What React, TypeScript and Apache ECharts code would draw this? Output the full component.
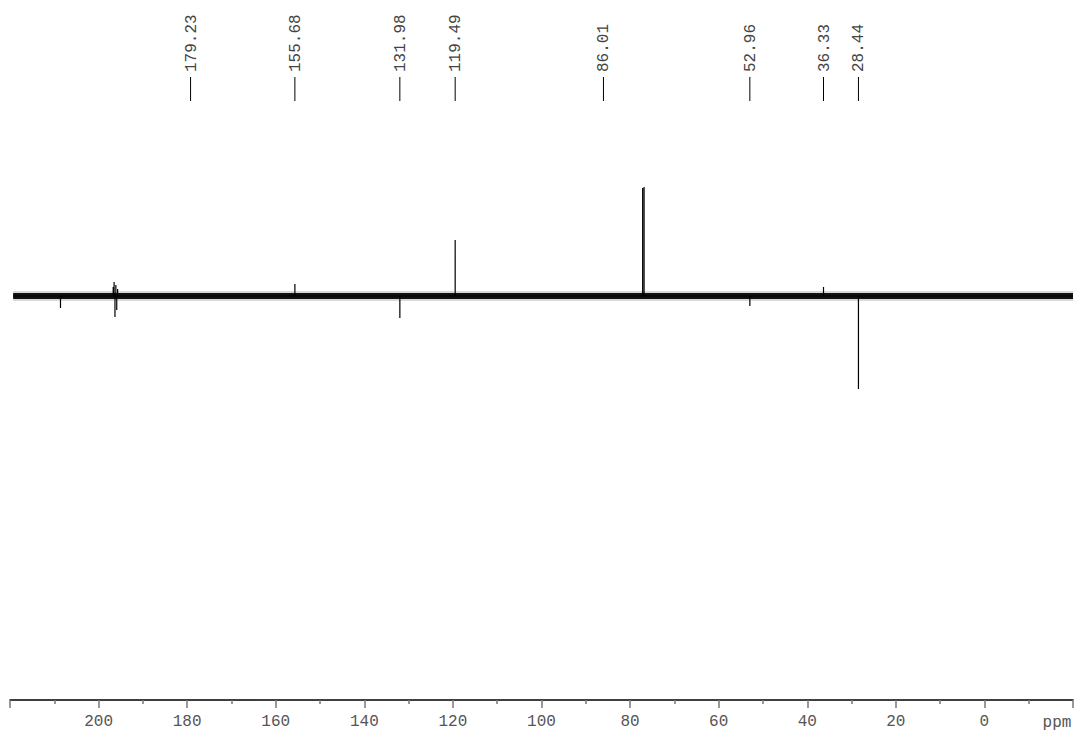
import React, { useEffect, useRef } from "react";
import * as echarts from "echarts";

// Peak-label positions (ppm) shown at the top
const labelPpm: number[] = [179.23, 155.68, 131.98, 119.49, 86.01, 52.96, 36.33, 28.44];

// Visible signals / spikes: [ppm, intensity] (arbitrary units, + up / - down)
const peakPpm: number[] = [
  208.6, 196.7, 196.5, 196.3, 196.1, 195.9, 195.7, 155.68, 131.98, 119.49,
  77.16, 76.84, 52.96, 36.33, 28.44,
];
const peakHeight: number[] = [
  -12, 9, 14, -21, 11, -14, 7, 12, -22, 56,
  108, 109, -10, 9, -93,
];

// Spectrum extent (ppm)
const spectrumStart = 219.3;
const spectrumEnd = -20;

// Axis ticks
const axisMin = -20;
const axisMax = 220;
const axisInterval = 20;

export default function App() {
  const ref = useRef<HTMLDivElement>(null);

  useEffect(() => {
    if (!ref.current) return;
    const chart = echarts.init(ref.current, null, { renderer: "svg" });

    const spectrum: number[][] = [[spectrumStart, 0]];
    peakPpm.forEach((p, i) => {
      spectrum.push([p, 0], [p, peakHeight[i]], [p, 0]);
    });
    spectrum.push([spectrumEnd, 0]);

    const baseline: number[][] = [
      [spectrumStart, 0],
      [spectrumEnd, 0],
    ];

    const mono = '"Liberation Mono", "DejaVu Sans Mono", monospace';

    chart.setOption({
      animation: false,
      backgroundColor: "#ffffff",
      grid: { left: 10, width: 1068, top: 100, bottom: 34 },
      xAxis: {
        type: "value",
        min: axisMin,
        max: axisMax,
        interval: axisInterval,
        inverse: true,
        axisLine: { show: true, onZero: false, lineStyle: { color: "#000", width: 1.5 } },
        axisTick: { show: true, length: 8, lineStyle: { color: "#777", width: 1.5 } },
        minorTick: { show: true, splitNumber: 2, length: 4, lineStyle: { color: "#777", width: 1.5 } },
        splitLine: { show: false },
        axisLabel: {
          color: "#555",
          fontFamily: mono,
          fontSize: 16,
          margin: 14,
          formatter: (v: number) => (v === axisMin || v === axisMax ? "" : String(v)),
        },
      },
      yAxis: {
        type: "value",
        min: -404,
        max: 196,
        show: false,
        splitLine: { show: false },
      },
      graphic: [
        {
          type: "text",
          x: 1057,
          y: 723,
          style: {
            text: "ppm",
            fill: "#555",
            font: `16px ${mono}`,
            align: "center",
            verticalAlign: "middle",
          },
        },
      ],
      series: [
        {
          type: "line",
          data: baseline,
          showSymbol: false,
          silent: true,
          lineStyle: { color: "#000", width: 10, opacity: 0.15 },
        },
        {
          type: "line",
          data: baseline,
          showSymbol: false,
          silent: true,
          lineStyle: { color: "#111", width: 6 },
        },
        {
          type: "line",
          data: spectrum,
          showSymbol: false,
          silent: true,
          lineStyle: { color: "#000", width: 1.2 },
        },
        {
          type: "custom",
          coordinateSystem: "cartesian2d",
          clip: false,
          silent: true,
          data: labelPpm.map((p) => [p, 0]),
          renderItem: (_params: any, api: any) => {
            const v = api.value(0) as number;
            const x = api.coord([v, 0])[0];
            return {
              type: "group",
              children: [
                {
                  type: "line",
                  shape: { x1: x, y1: 77, x2: x, y2: 101 },
                  style: { stroke: "#000", lineWidth: 1 },
                },
                {
                  type: "text",
                  x: x + 1,
                  y: 72,
                  rotation: Math.PI / 2,
                  style: {
                    text: v.toFixed(2),
                    fill: "#444",
                    font: `16px ${mono}`,
                    align: "left",
                    verticalAlign: "middle",
                  },
                },
              ],
            };
          },
        },
      ],
    });

    return () => chart.dispose();
  }, []);

  return (
    <div
      ref={ref}
      style={{ position: "absolute", left: 0, top: 0, width: 1076, height: 734 }}
    />
  );
}
